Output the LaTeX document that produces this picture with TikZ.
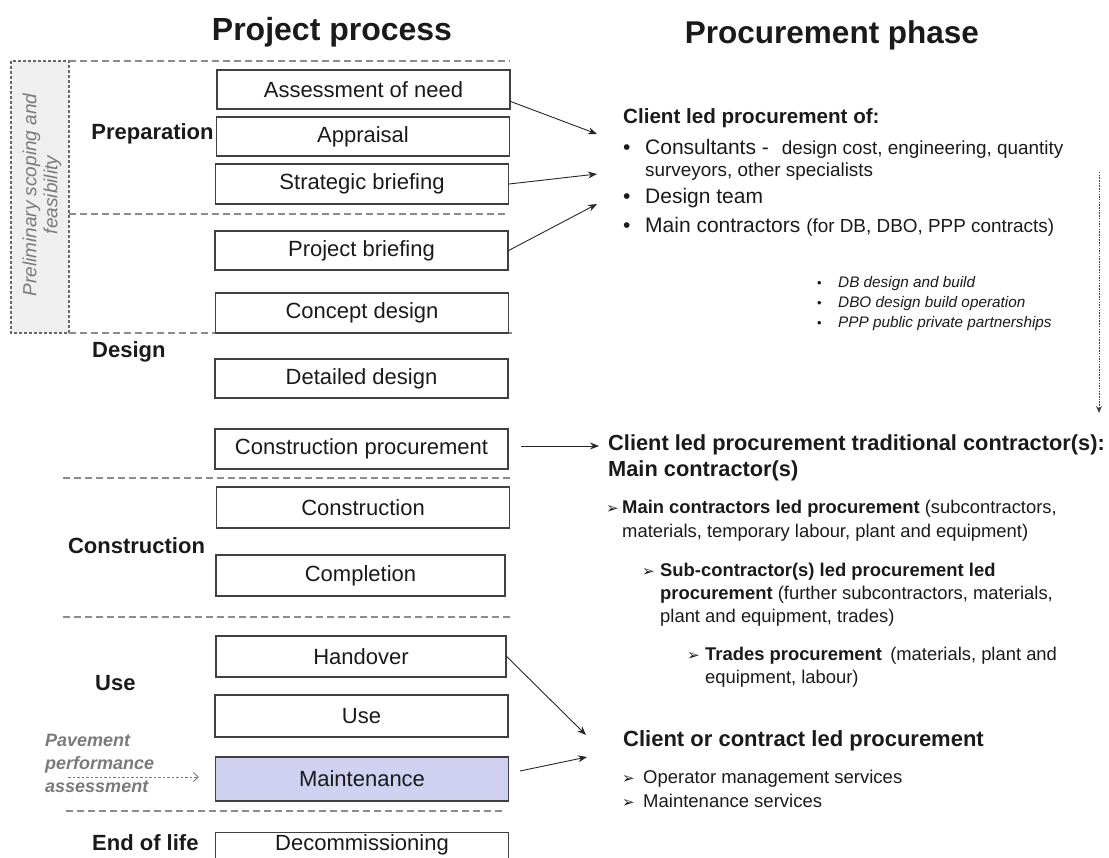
\documentclass[tikz,border=0pt]{standalone}
\usepackage{fontspec}
\setmainfont{Liberation Sans}
\newfontfamily\dv{DejaVu Sans}
\usetikzlibrary{arrows.meta}
\definecolor{boxline}{HTML}{404040}
\definecolor{dashgray}{HTML}{8C8C8C}
\definecolor{prelimfill}{HTML}{EFEFEF}
\definecolor{maint}{HTML}{D0D0F0}
\definecolor{softgray}{HTML}{7A7A7A}
\definecolor{ink}{HTML}{1A1A1A}
\newcommand{\fsz}[2]{\fontsize{#1}{#2}\selectfont}
\newcommand{\arr}{{\dv\fsz{15}{17}➢}}
\begin{document}
\begin{tikzpicture}[x=1pt,y=-1pt,
  pbox/.style={draw=boxline, line width=1.3pt, minimum width=293pt, minimum height=40pt, inner sep=0pt, font=\fsz{22}{26}, text=ink},
  phase/.style={font=\bfseries\fsz{22}{26}, inner sep=0pt, text=ink},
  sep/.style={draw=dashgray, line width=1.4pt, dash pattern=on 7pt off 4pt},
  conn/.style={draw=black!85, line width=0.9pt, -{Stealth[length=9pt,width=7pt]}},
  txt/.style={anchor=base west, inner sep=0pt, text=ink},
]
\useasboundingbox (0,0) rectangle (1109,858);
\clip (0,0) rectangle (1109,858);

% titles
\node[font=\bfseries\fsz{32}{36}, text=ink] (t1) at (332,32) {Project process};
\node[font=\bfseries\fsz{31.5}{36}, text=ink] (t2) at (832,35) {Procurement phase};

% preliminary box
\filldraw[fill=prelimfill, draw=boxline!80, line width=1.2pt, dash pattern=on 3pt off 2pt] (11,61) rectangle (69,333);
\node[rotate=90, font=\itshape\fsz{19}{21}, text=softgray, align=center] (prelim) at (42,195) {Preliminary scoping and\\feasibility};

% separators
\draw[sep] (69,61) -- (510,61);
\draw[sep] (69,214) -- (508,214);
\draw[sep] (69,333) -- (512,333);
\draw[sep] (63,478) -- (512,478);
\draw[sep] (63,617) -- (512,617);
\draw[sep] (66,811) -- (504,811);

% process boxes
\node[pbox, minimum height=39pt] (need) at (363.5,89.5) {Assessment of need};
\node[pbox, minimum height=39pt] (appr) at (363,136.5) {Appraisal};
\node[pbox] (strat) at (362,184) {Strategic briefing};
\node[pbox, minimum height=39pt] (pbrief) at (361.5,250.5) {Project briefing};
\node[pbox] (concept) at (362,313) {Concept design};
\node[pbox, minimum height=39pt] (detail) at (361.5,378.5) {Detailed design};
\node[pbox] (cproc) at (361.5,449) {Construction procurement};
\node[pbox, minimum height=41pt] (constr) at (363,507.5) {Construction};
\node[pbox, minimum height=41pt, minimum width=289pt] (compl) at (360.5,575.5) {Completion};
\node[pbox, minimum height=41pt, minimum width=290pt] (hand) at (361,656.5) {Handover};
\node[pbox, minimum height=42pt] (use) at (361.5,716) {Use};
\node[pbox, minimum height=44pt, fill=maint] (maint) at (362,779) {Maintenance};
\node[pbox, anchor=north, minimum height=0pt, inner ysep=2pt, text depth=8pt] (decom) at (362,832) {Decommissioning};

% phase labels
\node[phase] (lprep) at (152.5,134) {Preparation};
\node[phase, anchor=west] (ldes) at (92,352) {Design};
\node[phase] (lcon) at (136.5,546) {Construction};
\node[phase, anchor=west] (luse) at (95,683) {Use};
\node[phase, anchor=west] (lend) at (92,843) {End of life};

% pavement
\node[txt, font=\bfseries\itshape\fsz{18}{23}, text=softgray] (pave) at (45,746) {Pavement};
\node[txt, font=\bfseries\itshape\fsz{18}{23}, text=softgray] (pave2) at (45,769) {performance};
\node[txt, font=\bfseries\itshape\fsz{18}{23}, text=softgray] (pave3) at (45,792) {assessment};
\coordinate (pvs) at (68,777);
\coordinate (pve) at (199,777);
\draw[draw=softgray, line width=0.9pt, dash pattern=on 2.5pt off 2pt, -{Straight Barb[length=5pt,width=9pt]}] (pvs) -- (pve);

% right column text
\node[txt, font=\bfseries\fsz{20.6}{24}] (r1) at (623,124) {Client led procurement of:};
\node[txt, font=\fsz{21}{24}] (b1) at (623,155) {•};
\node[txt, font=\fsz{21}{24}] (r2) at (645,155) {Consultants -\,\, {\fsz{18.9}{20}design cost, engineering, quantity}};
\node[txt, font=\fsz{18.9}{20}] (r3) at (645,177) {surveyors, other specialists};
\node[txt, font=\fsz{21}{24}] (b2) at (623,204) {•};
\node[txt, font=\fsz{21}{24}] (r4) at (645,204) {Design team};
\node[txt, font=\fsz{21}{24}] (b3) at (623,233) {•};
\node[txt, font=\fsz{21}{24}] (r5) at (645,233) {Main contractors {\fsz{18.9}{20}(for DB, DBO, PPP contracts)}};

\node[txt, font=\fsz{13}{15}] (s1b) at (817,288) {•};
\node[txt, font=\itshape\fsz{15.3}{17}] (s1) at (838,288) {DB design and build};
\node[txt, font=\fsz{13}{15}] (s2b) at (817,308) {•};
\node[txt, font=\itshape\fsz{15.3}{17}] (s2) at (838,308) {DBO design build operation};
\node[txt, font=\fsz{13}{15}] (s3b) at (817,328) {•};
\node[txt, font=\itshape\fsz{15.3}{17}] (s3) at (838,328) {PPP public private partnerships};

\coordinate (vs) at (1099,172);
\coordinate (ve) at (1099,413);
\draw[draw=black!75, line width=0.9pt, dash pattern=on 1.5pt off 1.2pt, -{Stealth[length=7pt,width=6pt]}] (vs) -- (ve);

\node[txt, font=\bfseries\fsz{21.8}{24}] (c1) at (608,451) {Client led procurement traditional contractor(s):};
\node[txt, font=\bfseries\fsz{21.8}{24}] (c2) at (608,477) {Main contractor(s)};

\node[txt] (a1) at (606,514) {\arr};
\node[txt, font=\fsz{18.4}{20}] (m1) at (622,514) {\textbf{Main contractors led procurement} (subcontractors,};
\node[txt, font=\fsz{18.4}{20}] (m2) at (622,537) {materials, temporary labour, plant and equipment)};
\node[txt] (a2) at (642,576) {\arr};
\node[txt, font=\fsz{18.4}{20}] (m3) at (660,576) {\textbf{Sub-contractor(s) led procurement led}};
\node[txt, font=\fsz{18.4}{20}] (m4) at (660,599) {\textbf{procurement} (further subcontractors, materials,};
\node[txt, font=\fsz{18.4}{20}] (m5) at (660,622) {plant and equipment, trades)};
\node[txt] (a3) at (687,660) {\arr};
\node[txt, font=\fsz{18.4}{20}] (m6) at (705,660) {\textbf{Trades procurement}\, (materials, plant and};
\node[txt, font=\fsz{18.4}{20}] (m7) at (705,683) {equipment, labour)};

\node[txt, font=\bfseries\fsz{22}{24}] (o1) at (623,746) {Client or contract led procurement};
\node[txt] (a4) at (622,783) {\arr};
\node[txt, font=\fsz{18.5}{20}] (o2) at (643,783) {Operator management services};
\node[txt] (a5) at (622,807) {\arr};
\node[txt, font=\fsz{18.5}{20}] (o3) at (643,807) {Maintenance services};

% connectors
\coordinate (e1) at (597,134);
\coordinate (e2) at (597,174);
\coordinate (e3) at (597,204);
\coordinate (e4s) at (521,446);
\coordinate (e4) at (599,446);
\coordinate (e5) at (586,735);
\coordinate (e6s) at (520,771);
\coordinate (e6) at (587,757);
\draw[conn] (need.east) ++(0,12) -- (e1);
\draw[conn] (strat.east) -- (e2);
\draw[conn] (pbrief.east) -- (e3);
\draw[conn] (e4s) -- (e4);
\draw[conn] (hand.east) -- (e5);
\draw[conn] (e6s) -- (e6);
\end{tikzpicture}
\end{document}
